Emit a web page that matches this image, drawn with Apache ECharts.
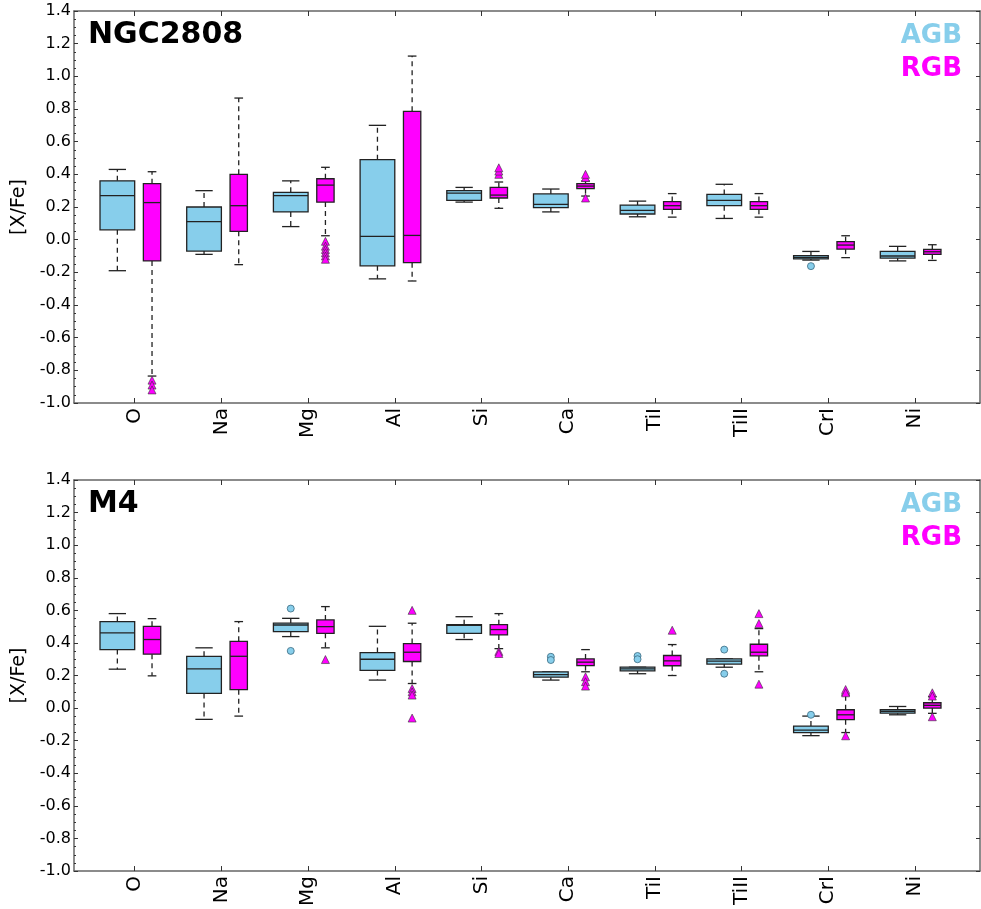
<!DOCTYPE html>
<html>
<head>
<meta charset="utf-8">
<script src="https://cdn.jsdelivr.net/npm/echarts@6/dist/echarts.min.js"></script>
<style>
html,body{margin:0;padding:0;background:#fff;}
#chart{width:981px;height:909px;}
</style>
</head>
<body>
<div id="chart"></div>
<script>
// Element categories (x axis)
const categories = ['O','Na','Mg','Al','Si','Ca','TiI','TiII','CrI','Ni'];
// Y tick range
const yTicks = {min: -1.0, max: 1.4, step: 0.2};

// Box statistics per category: [lower whisker, Q1, median, Q3, upper whisker]
const ngcAGB = [
  [-0.19, 0.06, 0.27, 0.36, 0.43],
  [-0.09, -0.07, 0.11, 0.20, 0.30],
  [0.08, 0.17, 0.27, 0.29, 0.36],
  [-0.24, -0.16, 0.02, 0.49, 0.70],
  [0.23, 0.24, 0.285, 0.30, 0.32],
  [0.17, 0.196, 0.216, 0.28, 0.31],
  [0.14, 0.157, 0.179, 0.212, 0.236],
  [0.13, 0.208, 0.241, 0.277, 0.339],
  [-0.125, -0.118, -0.108, -0.098, -0.072],
  [-0.13, -0.113, -0.10, -0.072, -0.041]
];
const ngcRGB = [
  [-0.835, -0.13, 0.227, 0.343, 0.416],
  [-0.153, 0.051, 0.208, 0.40, 0.867],
  [0.024, 0.23, 0.334, 0.373, 0.443],
  [-0.253, -0.141, 0.026, 0.786, 1.124],
  [0.192, 0.255, 0.273, 0.320, 0.353],
  [0.267, 0.312, 0.328, 0.343, 0.359],
  [0.138, 0.186, 0.208, 0.233, 0.282],
  [0.138, 0.186, 0.208, 0.233, 0.282],
  [-0.110, -0.058, -0.033, -0.012, 0.024],
  [-0.127, -0.090, -0.074, -0.059, -0.031]
];
const ngcAGBOutliers = [['CrI', -0.162]];
const ngcRGBOutliers = [
  ['O', -0.86], ['O', -0.89], ['O', -0.92],
  ['Mg', -0.01], ['Mg', -0.04], ['Mg', -0.06], ['Mg', -0.08], ['Mg', -0.10], ['Mg', -0.12],
  ['Si', 0.40], ['Si', 0.42], ['Si', 0.44],
  ['Ca', 0.38], ['Ca', 0.40], ['Ca', 0.255]
];

const m4AGB = [
  [0.239, 0.359, 0.462, 0.531, 0.580],
  [-0.069, 0.090, 0.241, 0.318, 0.370],
  [0.439, 0.470, 0.510, 0.521, 0.551],
  [0.172, 0.231, 0.300, 0.341, 0.502],
  [0.421, 0.459, 0.508, 0.512, 0.561],
  [0.172, 0.190, 0.206, 0.223, 0.223],
  [0.211, 0.229, 0.241, 0.251, 0.251],
  [0.251, 0.270, 0.288, 0.302, 0.302],
  [-0.169, -0.151, -0.135, -0.110, -0.049],
  [-0.041, -0.031, -0.020, -0.010, 0.010]
];
const m4RGB = [
  [0.198, 0.331, 0.421, 0.502, 0.549],
  [-0.049, 0.113, 0.318, 0.410, 0.531],
  [0.370, 0.459, 0.500, 0.541, 0.623],
  [0.151, 0.286, 0.343, 0.396, 0.521],
  [0.365, 0.449, 0.482, 0.512, 0.580],
  [0.223, 0.261, 0.282, 0.302, 0.359],
  [0.200, 0.260, 0.290, 0.323, 0.390],
  [0.223, 0.321, 0.343, 0.392, 0.488],
  [-0.150, -0.071, -0.041, -0.010, 0.080],
  [-0.032, 0.000, 0.017, 0.033, 0.070]
];
const m4AGBOutliers = [
  ['Mg', 0.611], ['Mg', 0.351],
  ['Ca', 0.315], ['Ca', 0.295],
  ['TiI', 0.32], ['TiI', 0.30],
  ['TiII', 0.359], ['TiII', 0.211],
  ['CrI', -0.041]
];
const m4RGBOutliers = [
  ['Mg', 0.298],
  ['Al', 0.600], ['Al', 0.12], ['Al', 0.10], ['Al', 0.08], ['Al', -0.061],
  ['Si', 0.348], ['Si', 0.335],
  ['Ca', 0.192], ['Ca', 0.162], ['Ca', 0.135],
  ['TiI', 0.478],
  ['TiII', 0.580], ['TiII', 0.519], ['TiII', 0.147],
  ['CrI', 0.114], ['CrI', 0.094], ['CrI', -0.17],
  ['Ni', 0.094], ['Ni', 0.074], ['Ni', -0.053]
];

const panelTitles = ['NGC2808', 'M4'];
const groupNames = ['AGB', 'RGB'];

// ---- styling / layout ----
const AGB_COLOR = '#87CEEB';
const RGB_COLOR = '#FF00FF';
const FONT = 'DejaVu Sans';
const AGB_OFF = -0.2, AGB_W = 0.4;
const RGB_OFF = 0.2, RGB_W = 0.2;
const catValues = categories.map((c, i) => i + 1);

function boxData(stats) { return stats.map((s, i) => [i + 1].concat(s)); }
function outData(list, off) { return list.map(o => [categories.indexOf(o[0]) + 1 + off, o[1]]); }

function makeRender(off, width, fill) {
  return function (params, api) {
    const x = api.value(0) + off;
    const low = api.coord([x, api.value(1)]);
    const q1 = api.coord([x, api.value(2)]);
    const med = api.coord([x, api.value(3)]);
    const q3 = api.coord([x, api.value(4)]);
    const high = api.coord([x, api.value(5)]);
    const w = api.size([width, 0])[0];
    const cx = low[0];
    const line = (x1, y1, x2, y2, dash) => ({
      type: 'line',
      shape: {x1: x1, y1: y1, x2: x2, y2: y2},
      style: {stroke: '#222', lineWidth: 1.3, lineDash: dash ? [5, 4] : null}
    });
    return {
      type: 'group',
      children: [
        line(cx, q3[1], cx, high[1], true),
        line(cx, q1[1], cx, low[1], true),
        line(cx - w / 4, high[1], cx + w / 4, high[1], false),
        line(cx - w / 4, low[1], cx + w / 4, low[1], false),
        {
          type: 'rect',
          shape: {x: cx - w / 2, y: q3[1], width: w, height: q1[1] - q3[1]},
          style: {fill: fill, stroke: '#222', lineWidth: 1.3}
        },
        line(cx - w / 2, med[1], cx + w / 2, med[1], false)
      ]
    };
  };
}

const grids = [
  {left: 74, top: 11, width: 906, height: 392},
  {left: 74, top: 480, width: 906, height: 392}
];

const xAxes = [], yAxes = [], series = [];
const axisLineStyle = {color: '#666', width: 1.5};

[0, 1].forEach(g => {
  xAxes.push({
    type: 'value', gridIndex: g, min: 0.3, max: 10.75, position: 'bottom',
    axisLine: {show: true, onZero: false, lineStyle: axisLineStyle},
    axisTick: {show: true, inside: true, length: 5, customValues: catValues, lineStyle: {color: '#333'}},
    axisLabel: {
      show: true, customValues: catValues, rotate: 90, margin: 5,
      fontSize: 20, fontFamily: FONT, color: '#000',
      formatter: v => categories[Math.round(v) - 1] || ''
    },
    splitLine: {show: false}
  });
  xAxes.push({
    type: 'value', gridIndex: g, min: 0.3, max: 10.75, position: 'top',
    axisLine: {show: true, onZero: false, lineStyle: axisLineStyle},
    axisTick: {show: true, inside: true, length: 5, customValues: catValues, lineStyle: {color: '#333'}},
    axisLabel: {show: false},
    splitLine: {show: false}
  });
  yAxes.push({
    type: 'value', gridIndex: g, min: yTicks.min, max: yTicks.max, interval: yTicks.step,
    position: 'left',
    axisLine: {show: true, onZero: false, lineStyle: axisLineStyle},
    axisTick: {show: true, inside: true, length: 4, lineStyle: {color: '#333'}},
    minorTick: {show: true, splitNumber: 4, length: 2, lineStyle: {color: '#333'}},
    axisLabel: {
      fontSize: 16, fontFamily: FONT, color: '#000', margin: 3,
      showMinLabel: true, showMaxLabel: true,
      formatter: v => (Math.abs(v) < 1e-9 ? 0 : v).toFixed(1)
    },
    splitLine: {show: false},
    name: '[X/Fe]', nameLocation: 'middle', nameGap: 42,
    nameTextStyle: {fontSize: 19, fontFamily: FONT, color: '#000'}
  });
  yAxes.push({
    type: 'value', gridIndex: g, min: yTicks.min, max: yTicks.max, interval: yTicks.step,
    position: 'right',
    axisLine: {show: true, onZero: false, lineStyle: axisLineStyle},
    axisTick: {show: true, inside: true, length: 4, lineStyle: {color: '#333'}},
    axisLabel: {show: false},
    splitLine: {show: false}
  });
});

const panels = [
  {agb: ngcAGB, rgb: ngcRGB, agbOut: ngcAGBOutliers, rgbOut: ngcRGBOutliers},
  {agb: m4AGB, rgb: m4RGB, agbOut: m4AGBOutliers, rgbOut: m4RGBOutliers}
];

panels.forEach((p, g) => {
  const xi = g * 2, yi = g * 2;
  series.push({
    type: 'custom', name: groupNames[0], xAxisIndex: xi, yAxisIndex: yi,
    renderItem: makeRender(AGB_OFF, AGB_W, AGB_COLOR),
    encode: {x: 0, y: [1, 2, 3, 4, 5]},
    data: boxData(p.agb), z: 2
  });
  series.push({
    type: 'custom', name: groupNames[1], xAxisIndex: xi, yAxisIndex: yi,
    renderItem: makeRender(RGB_OFF, RGB_W, RGB_COLOR),
    encode: {x: 0, y: [1, 2, 3, 4, 5]},
    data: boxData(p.rgb), z: 2
  });
  series.push({
    type: 'scatter', xAxisIndex: xi, yAxisIndex: yi, symbol: 'circle', symbolSize: 7,
    itemStyle: {color: AGB_COLOR, borderColor: '#3a6a80', borderWidth: 0.8, opacity: 1},
    data: outData(p.agbOut, AGB_OFF), z: 3, silent: true
  });
  series.push({
    type: 'scatter', xAxisIndex: xi, yAxisIndex: yi, symbol: 'triangle', symbolSize: 8,
    itemStyle: {color: RGB_COLOR, borderColor: '#333', borderWidth: 0.6, opacity: 1},
    data: outData(p.rgbOut, RGB_OFF), z: 3, silent: true
  });
});

const graphics = [];
[34, 503].forEach((y, g) => {
  graphics.push({type: 'text', left: 88, top: y - 14,
    style: {text: panelTitles[g], font: 'bold 30px "DejaVu Sans"', fill: '#000'}});
  graphics.push({type: 'text', right: 19, top: y - 11,
    style: {text: groupNames[0], font: 'bold 26px "DejaVu Sans"', fill: AGB_COLOR, align: 'right'}});
  graphics.push({type: 'text', right: 19, top: y + 22,
    style: {text: groupNames[1], font: 'bold 26px "DejaVu Sans"', fill: RGB_COLOR, align: 'right'}});
});

const chart = echarts.init(document.getElementById('chart'));
chart.setOption({
  animation: false,
  backgroundColor: '#fff',
  grid: grids,
  xAxis: xAxes,
  yAxis: yAxes,
  series: series,
  graphic: graphics
});
</script>
</body>
</html>
